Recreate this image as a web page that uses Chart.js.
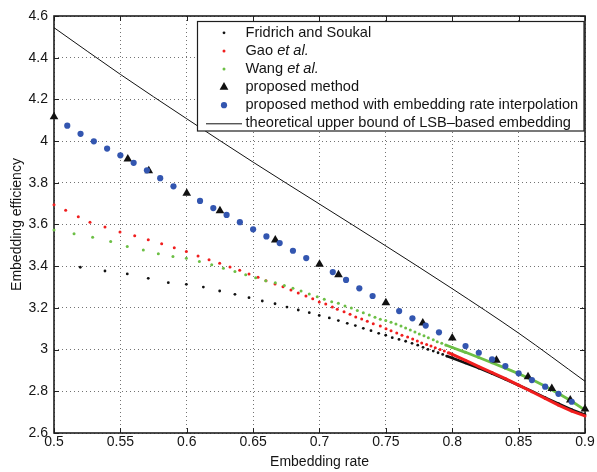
<!DOCTYPE html>
<html>
<head>
<meta charset="utf-8">
<title>Embedding efficiency</title>
<script src="https://cdn.jsdelivr.net/npm/chart.js@4.4.1/dist/chart.umd.min.js"></script>
<style>
  html, body { margin: 0; padding: 0; background: #fff; }
  #wrap { position: relative; width: 597px; height: 472px; }
</style>
</head>
<body>
<div id="wrap"><canvas id="chart"></canvas></div>
<script>
// ---- data ----
const xTicks = [0.5, 0.55, 0.6, 0.65, 0.7, 0.75, 0.8, 0.85, 0.9];
const yTicks = [2.6, 2.8, 3, 3.2, 3.4, 3.6, 3.8, 4, 4.2, 4.4, 4.6];

const legendLabels = [
  [['Fridrich and Soukal', false]],
  [['Gao ', false], ['et al.', true]],
  [['Wang ', false], ['et al.', true]],
  [['proposed method', false]],
  [['proposed method with embedding rate interpolation', false]],
  [['theoretical upper bound of LSB\u2013based embedding', false]]
];

const fridrichRate = [0.5198, 0.5384, 0.5552, 0.5710, 0.5861, 0.5997, 0.6125, 0.6248, 0.6363, 0.6469,
  0.6569, 0.6665, 0.6755, 0.6840, 0.6923, 0.6998, 0.7074, 0.7142, 0.7209, 0.7270,
  0.7330, 0.7388, 0.7446, 0.7499, 0.7548, 0.7599, 0.7649, 0.7697, 0.7740, 0.7780,
  0.7817, 0.7857, 0.7893, 0.7928, 0.7958,
  0.80, 0.81, 0.82, 0.83, 0.84, 0.85, 0.86, 0.87, 0.88, 0.89, 0.90];
const fridrichEff = [3.395, 3.377, 3.363, 3.342, 3.321, 3.313, 3.300, 3.281, 3.265, 3.249,
  3.233, 3.220, 3.204, 3.190, 3.177, 3.164, 3.152, 3.139, 3.126, 3.115,
  3.102, 3.091, 3.078, 3.069, 3.057, 3.049, 3.040, 3.030, 3.021, 3.011,
  3.001, 2.993, 2.985, 2.977, 2.969,
  2.960, 2.936, 2.911, 2.885, 2.858, 2.829, 2.800, 2.770, 2.741, 2.712, 2.688];

const gaoRate = [0.5, 0.5088, 0.5183, 0.5271, 0.5384, 0.5497, 0.5608, 0.5710, 0.5811, 0.5906,
  0.5997, 0.6085, 0.6168, 0.6248, 0.6326, 0.6399, 0.6469, 0.6537, 0.6597, 0.6665,
  0.6725, 0.6785, 0.6840, 0.6898, 0.6949, 0.6998, 0.7047, 0.7097, 0.7134, 0.7185,
  0.7230, 0.7273, 0.7318, 0.7360, 0.7405, 0.7458, 0.7501, 0.7539, 0.7582, 0.7621,
  0.7664, 0.7702, 0.7737, 0.7770, 0.7807, 0.7840, 0.7872, 0.7908, 0.7940, 0.7970,
  0.80, 0.81, 0.82, 0.83, 0.84, 0.85, 0.86, 0.87, 0.88, 0.89, 0.90];
const gaoEff = [3.695, 3.668, 3.637, 3.611, 3.588, 3.564, 3.546, 3.527, 3.508, 3.489,
  3.470, 3.449, 3.431, 3.414, 3.396, 3.380, 3.363, 3.347, 3.330, 3.315,
  3.302, 3.286, 3.271, 3.257, 3.244, 3.228, 3.219, 3.204, 3.193, 3.182,
  3.169, 3.156, 3.147, 3.136, 3.124, 3.113, 3.100, 3.091, 3.080, 3.069,
  3.060, 3.051, 3.041, 3.032, 3.025, 3.017, 3.009, 3.001, 2.993, 2.985,
  2.977, 2.948, 2.918, 2.890, 2.861, 2.830, 2.798, 2.766, 2.734, 2.705, 2.682];

const wangRate = [0.5, 0.5151, 0.5291, 0.5427, 0.5552, 0.5673, 0.5786, 0.5896, 0.5997, 0.6095,
  0.6188, 0.6276, 0.6363, 0.6444, 0.6519, 0.6595, 0.6667, 0.6735, 0.6800, 0.6861,
  0.6923, 0.6983, 0.7036, 0.7092, 0.7142, 0.7192, 0.7240, 0.7285, 0.7330, 0.7375,
  0.7418, 0.7458, 0.7499, 0.7539, 0.7576, 0.7614, 0.7649, 0.7684, 0.7719, 0.7752,
  0.7787, 0.7820, 0.7857, 0.7887, 0.7921, 0.7951,
  0.80, 0.81, 0.82, 0.83, 0.84, 0.85, 0.86, 0.87, 0.88, 0.89, 0.90];
const wangEff = [3.574, 3.556, 3.539, 3.519, 3.495, 3.478, 3.460, 3.446, 3.438, 3.422,
  3.407, 3.390, 3.374, 3.359, 3.345, 3.330, 3.321, 3.308, 3.294, 3.281,
  3.267, 3.254, 3.241, 3.230, 3.222, 3.209, 3.200, 3.188, 3.177, 3.166,
  3.155, 3.145, 3.139, 3.131, 3.123, 3.113, 3.104, 3.094, 3.084, 3.075,
  3.067, 3.057, 3.047, 3.038, 3.030, 3.022,
  3.010, 2.987, 2.962, 2.937, 2.911, 2.884, 2.856, 2.824, 2.789, 2.752, 2.710];

const proposedRate = [0.5, 0.5556, 0.5714, 0.6, 0.625, 0.6667, 0.7, 0.7143, 0.75, 0.7778,
  0.8, 0.8333, 0.8571, 0.875, 0.8889, 0.9];
const proposedEff = [4.117, 3.914, 3.858, 3.750, 3.666, 3.526, 3.409, 3.359, 3.225, 3.128,
  3.056, 2.949, 2.870, 2.814, 2.758, 2.715];

const interpRate = [0.51, 0.52, 0.53, 0.54, 0.55, 0.56, 0.57, 0.58, 0.59,
  0.61, 0.62, 0.63, 0.64, 0.65, 0.66, 0.67, 0.68, 0.69,
  0.71, 0.72, 0.73, 0.74, 0.76, 0.77, 0.78, 0.79,
  0.81, 0.82, 0.83, 0.84, 0.85, 0.86, 0.87, 0.88, 0.89];
const interpEff = [4.074, 4.035, 3.999, 3.964, 3.932, 3.896, 3.860, 3.822, 3.783,
  3.713, 3.679, 3.646, 3.611, 3.577, 3.543, 3.511, 3.474, 3.439,
  3.372, 3.334, 3.294, 3.257, 3.185, 3.150, 3.115, 3.083,
  3.017, 2.985, 2.953, 2.921, 2.886, 2.854, 2.822, 2.788, 2.750];

const boundRate = [0.5, 0.55, 0.6, 0.65, 0.7, 0.75, 0.8, 0.85, 0.9];
const boundEff = [4.544, 4.320, 4.107, 3.899, 3.698, 3.497, 3.292, 3.079, 2.848];

// where the dotted series get so dense they read as a solid line
const denseFrom = 0.795;

// ---- styling ----
const FONT = '"Liberation Sans", Arial, Helvetica, sans-serif';
const colBlack = '#111111';
const colRed = '#f01e1e';
const colGreen = '#6cbf45';
const colBlue = '#3356b0';

const pts = (xs, ys) => xs.map((x, i) => ({ x: x, y: ys[i] }));

function dottedSeries(label, xs, ys, color, r, w, order) {
  return {
    label: label,
    data: pts(xs, ys),
    showLine: true,
    borderColor: color,
    borderWidth: w,
    backgroundColor: color,
    pointRadius: r,
    pointBorderWidth: 0,
    pointBackgroundColor: color,
    segment: {
      borderColor: ctx => ctx.p0.parsed.x >= denseFrom ? color : 'rgba(0,0,0,0)'
    },
    clip: false,
    order: order
  };
}

const fmt = v => String(Math.round(v * 100) / 100);

// axes box + inward ticks, like the original figure
const axesBox = {
  id: 'axesBox',
  beforeDatasetsDraw(chart) {
    const { ctx, chartArea: a, scales } = chart;
    const tl = 5;
    ctx.save();
    ctx.strokeStyle = '#222';
    ctx.lineWidth = 1;
    ctx.beginPath();
    xTicks.forEach(v => {
      const px = Math.round(scales.x.getPixelForValue(v)) + 0.5;
      ctx.moveTo(px, a.bottom); ctx.lineTo(px, a.bottom - tl);
      ctx.moveTo(px, a.top); ctx.lineTo(px, a.top + tl);
    });
    yTicks.forEach(v => {
      const py = Math.round(scales.y.getPixelForValue(v)) + 0.5;
      ctx.moveTo(a.left, py); ctx.lineTo(a.left + tl, py);
      ctx.moveTo(a.right, py); ctx.lineTo(a.right - tl, py);
    });
    ctx.stroke();
    ctx.lineWidth = 1.6;
    ctx.strokeStyle = '#1e1e1e';
    ctx.strokeRect(a.left, a.top, a.right - a.left, a.bottom - a.top);
    ctx.restore();
  }
};

// legend box with italic "et al."
const boxLegend = {
  id: 'boxLegend',
  afterDraw(chart) {
    const { ctx, chartArea: a } = chart;
    const l = a.left + 143.5, t = a.top + 5.5, r = a.right - 1, b = a.top + 115;
    ctx.save();
    ctx.fillStyle = '#fff';
    ctx.fillRect(l, t, r - l, b - t);
    ctx.strokeStyle = '#1e1e1e';
    ctx.lineWidth = 1.2;
    ctx.strokeRect(l, t, r - l, b - t);

    const mx = l + 26.5, tx = l + 48;
    const markers = [
      { kind: 'dot', color: colBlack, r: 1.4 },
      { kind: 'dot', color: colRed, r: 1.5 },
      { kind: 'dot', color: colGreen, r: 1.5 },
      { kind: 'tri', color: colBlack },
      { kind: 'dot', color: colBlue, r: 3.1 },
      { kind: 'line', color: colBlack }
    ];
    legendLabels.forEach((parts, i) => {
      const base = t + 15.3 + i * 18.1;
      const my = base - 4;
      const m = markers[i];
      ctx.fillStyle = m.color;
      ctx.strokeStyle = m.color;
      if (m.kind === 'dot') {
        ctx.beginPath(); ctx.arc(mx, my, m.r, 0, Math.PI * 2); ctx.fill();
      } else if (m.kind === 'tri') {
        ctx.beginPath();
        ctx.moveTo(mx, my - 5); ctx.lineTo(mx + 4.4, my + 2.7); ctx.lineTo(mx - 4.4, my + 2.7);
        ctx.closePath(); ctx.fill();
      } else {
        ctx.lineWidth = 1;
        ctx.beginPath(); ctx.moveTo(l + 8.5, my + 0.5); ctx.lineTo(l + 44.5, my + 0.5); ctx.stroke();
      }
      ctx.fillStyle = '#141414';
      ctx.textBaseline = 'alphabetic';
      ctx.textAlign = 'left';
      let x = tx;
      parts.forEach(([s, it]) => {
        ctx.font = (it ? 'italic ' : '') + '14.6px ' + FONT;
        ctx.fillText(s, x, base);
        x += ctx.measureText(s).width;
      });
    });
    ctx.restore();
  }
};

new Chart(document.getElementById('chart'), {
  type: 'scatter',
  data: {
    datasets: [
      dottedSeries('Fridrich and Soukal', fridrichRate, fridrichEff, colBlack, 1.4, 2.6, 6),
      dottedSeries('Gao et al.', gaoRate, gaoEff, colRed, 1.5, 3, 5),
      dottedSeries('Wang et al.', wangRate, wangEff, colGreen, 1.5, 2.8, 4),
      {
        label: 'proposed method',
        data: pts(proposedRate, proposedEff),
        pointStyle: 'triangle',
        pointRadius: 5,
        pointBorderWidth: 0,
        pointBackgroundColor: colBlack,
        backgroundColor: colBlack,
        clip: false,
        order: 3
      },
      {
        label: 'proposed method with embedding rate interpolation',
        data: pts(interpRate, interpEff),
        pointRadius: 3.1,
        pointBorderWidth: 0,
        pointBackgroundColor: colBlue,
        backgroundColor: colBlue,
        clip: false,
        order: 2
      },
      {
        label: 'theoretical upper bound of LSB-based embedding',
        data: pts(boundRate, boundEff),
        showLine: true,
        cubicInterpolationMode: 'monotone',
        borderColor: colBlack,
        borderWidth: 1,
        pointRadius: 0,
        order: 1
      }
    ]
  },
  options: {
    responsive: true,
    maintainAspectRatio: false,
    devicePixelRatio: 1,
    animation: false,
    events: [],
    layout: { padding: { top: 16, right: 12, bottom: 0, left: 0 } },
    plugins: { legend: { display: false }, tooltip: { enabled: false } },
    scales: {
      x: {
        type: 'linear',
        min: 0.5,
        max: 0.9,
        afterBuildTicks: s => { s.ticks = xTicks.map(v => ({ value: v })); },
        afterFit: s => { s.height = 39; },
        ticks: {
          autoSkip: false, maxRotation: 0, padding: 1,
          color: '#141414', font: { family: FONT, size: 14 },
          callback: v => fmt(v)
        },
        grid: { color: 'rgba(0,0,0,0.55)', lineWidth: 1, drawTicks: false },
        border: { display: false, dash: [1, 3] },
        title: {
          display: true, text: 'Embedding rate', color: '#141414',
          font: { family: FONT, size: 14 }, padding: { top: 0, bottom: 1 }
        }
      },
      y: {
        type: 'linear',
        min: 2.6,
        max: 4.6,
        afterBuildTicks: s => { s.ticks = yTicks.map(v => ({ value: v })); },
        afterFit: s => { s.width = 54; },
        ticks: {
          autoSkip: false, padding: 6,
          color: '#141414', font: { family: FONT, size: 14 },
          callback: v => fmt(v)
        },
        grid: { color: 'rgba(0,0,0,0.55)', lineWidth: 1, drawTicks: false },
        border: { display: false, dash: [1, 3] },
        title: {
          display: true, text: 'Embedding efficiency', color: '#141414',
          font: { family: FONT, size: 14 }, padding: { top: 9, bottom: 0 }
        }
      }
    }
  },
  plugins: [axesBox, boxLegend]
});
</script>
</body>
</html>
